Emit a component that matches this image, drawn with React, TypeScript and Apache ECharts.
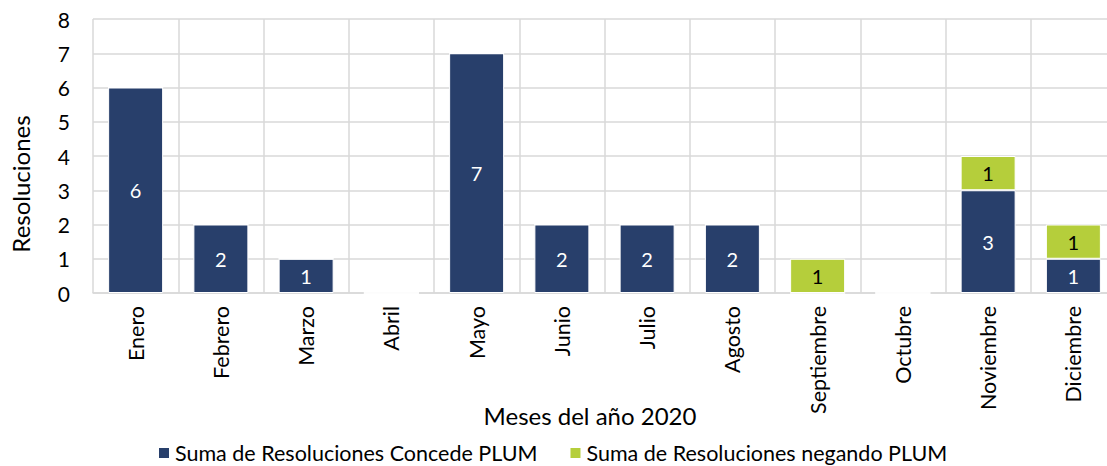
import React, { useEffect, useRef } from "react";
import * as echarts from "echarts";

const months = ["Enero", "Febrero", "Marzo", "Abril", "Mayo", "Junio", "Julio", "Agosto", "Septiembre", "Octubre", "Noviembre", "Diciembre"];
const concede = [6, 2, 1, 0, 7, 2, 2, 2, 0, 0, 3, 1];
const negando = [0, 0, 0, 0, 0, 0, 0, 0, 1, 0, 1, 1];
const seriesNames = ["Suma de Resoluciones Concede PLUM", "Suma de Resoluciones negando PLUM"];
const yTicks = { min: 0, max: 8, interval: 1 };

const FONT = "Lato, 'Noto Sans', sans-serif";

export default function App() {
  const ref = useRef<HTMLDivElement>(null);
  useEffect(() => {
    if (!ref.current) return;
    const chart = echarts.init(ref.current, undefined, { renderer: "svg" });
    const hideZero = (p: any) => (p.value ? String(p.value) : "");
    chart.setOption({
      animation: false,
      textStyle: { fontFamily: FONT },
      grid: { left: 93, top: 19, right: 9, bottom: 173, containLabel: false },
      legend: {
        left: 157,
        top: 442,
        padding: 0,
        itemWidth: 12,
        itemHeight: 12,
        itemGap: 31,
        icon: "rect",
        textStyle: { fontSize: 21.5, color: "#000", fontFamily: FONT, lineHeight: 20, padding: [0, 0, 0, 0] },
        data: seriesNames,
      },
      xAxis: {
        type: "category",
        data: months,
        axisLine: { show: true, lineStyle: { color: "#d9d9d9", width: 1.5 } },
        axisTick: { show: false },
        splitLine: { show: true, lineStyle: { color: "#d9d9d9", width: 1.5 } },
        axisLabel: { rotate: 90, fontSize: 21.5, color: "#000", margin: 13, interval: 0, fontFamily: FONT },
      },
      yAxis: {
        type: "value",
        min: yTicks.min,
        max: yTicks.max,
        interval: yTicks.interval,
        axisLine: { show: false },
        axisTick: { show: false },
        splitLine: { show: true, lineStyle: { color: "#d9d9d9", width: 1.5 } },
        axisLabel: { fontSize: 21, color: "#000", margin: 23, fontFamily: FONT },
      },
      graphic: [
        {
          type: "text",
          x: 20,
          y: 184,
          rotation: Math.PI / 2,
          style: { text: "Resoluciones", fontSize: 24, fill: "#000", fontFamily: FONT, align: "center", verticalAlign: "middle" },
        },
        {
          type: "text",
          x: 590,
          y: 415,
          style: { text: "Meses del año 2020", fontSize: 24, fill: "#000", fontFamily: FONT, align: "center", verticalAlign: "middle" },
        },
      ],
      series: [
        {
          name: seriesNames[0],
          type: "bar",
          stack: "total",
          data: concede,
          barWidth: 55,
          itemStyle: { color: "#283F6B", borderColor: "#ffffff", borderWidth: 1 },
          label: { show: true, position: "inside", color: "#fff", fontSize: 20, formatter: hideZero, fontFamily: FONT },
        },
        {
          name: seriesNames[1],
          type: "bar",
          stack: "total",
          data: negando,
          barWidth: 55,
          itemStyle: { color: "#B5CE3B", borderColor: "#ffffff", borderWidth: 1 },
          label: { show: true, position: "inside", color: "#000", fontSize: 20, formatter: hideZero, fontFamily: FONT },
        },
      ],
    });
    return () => chart.dispose();
  }, []);
  return (
    <div style={{ position: "absolute", left: 0, top: 0, width: 1107, height: 466, overflow: "hidden", background: "#fff" }}>
      <div ref={ref} style={{ width: 1125, height: 466 }} />
    </div>
  );
}
